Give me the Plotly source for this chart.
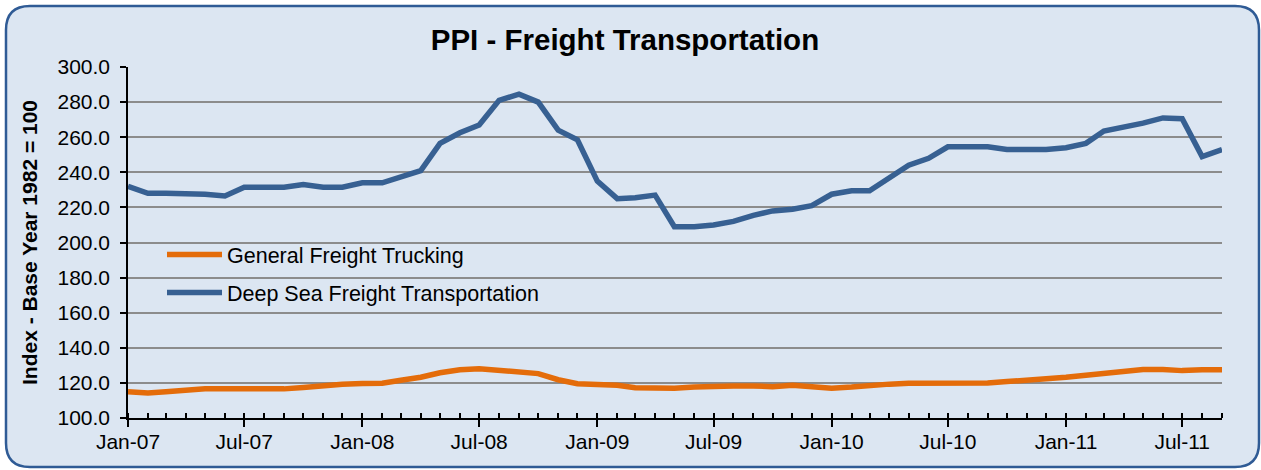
import plotly.graph_objects as go
import pandas as pd

months = pd.date_range("2007-01-01", periods=57, freq="MS")

deep_sea = [232, 228, 228, 228, 227.5, 226.5, 231.5, 231.5, 231.5, 233, 231.5, 231.5,
            234, 234, 237.5, 241, 256.5, 262.5, 267, 281, 284.5,
            280, 264, 258.5, 235, 225, 225.5, 227, 209, 209, 210, 212, 215.5, 218, 219, 221,
            227.5, 229.5, 229.5,
            237, 244, 248, 254.5, 254.5, 254.5, 253, 253, 253, 254, 256.5, 263.5, 265.5, 268,
            271, 270.5, 249, 253]

trucking = [114.9, 114.2, 114.9, 116, 116.6, 116.6, 116.6, 116.6, 116.6, 117.4, 118.5, 119.2,
            119.6, 119.8, 121.5, 123.2, 125.8, 127.5, 128.1, 127.4, 126, 125.3, 121.8, 119.5,
            119.1, 118.7, 117.2, 116.7, 117, 117.6, 118.3, 118.3, 118.3, 117.8, 118.7, 117.8,
            117, 117.6, 118.7, 119.3, 119.8, 119.8, 119.7, 119.6, 120, 120.8, 121.9, 122.3,
            123.2, 124.5, 125.7, 127, 127.7, 127.7, 127, 127.5, 127.5]

W, H = 1261, 470
ML, MR, MT, MB = 128, 39, 67, 52
PW, PH = W - ML - MR, H - MT - MB

BG = "#DCE6F2"
BORDER = "#2F5B95"
BLUE = "#376092"
ORANGE = "#E46C0A"
FONT = "Liberation Sans, Arial, sans-serif"


def px(x):
    return (x - ML) / PW


def py(y):
    return (H - MB - y) / PH


def rounded_rect(x0, y0, x1, y1, r):
    pts = [
        ("M", [(x0 + r, y0)]),
        ("L", [(x1 - r, y0)]),
        ("Q", [(x1, y0), (x1, y0 + r)]),
        ("L", [(x1, y1 - r)]),
        ("Q", [(x1, y1), (x1 - r, y1)]),
        ("L", [(x0 + r, y1)]),
        ("Q", [(x0, y1), (x0, y1 - r)]),
        ("L", [(x0, y0 + r)]),
        ("Q", [(x0, y0), (x0 + r, y0)]),
    ]
    s = ""
    for cmd, ps in pts:
        s += cmd + " " + " ".join(f"{px(a):.5f},{py(b):.5f}" for a, b in ps) + " "
    return s + "Z"


fig = go.Figure()
fig.add_trace(go.Scatter(x=months, y=trucking, mode="lines", name="General Freight Trucking",
                         line=dict(color=ORANGE, width=5.5), legendgroup="a"))
fig.add_trace(go.Scatter(x=months, y=deep_sea, mode="lines", name="Deep Sea Freight Transportation",
                         line=dict(color=BLUE, width=5.5), legendgroup="b"))

fig.update_layout(
    width=W, height=H,
    margin=dict(l=ML, r=MR, t=MT, b=MB),
    paper_bgcolor="white",
    plot_bgcolor="rgba(0,0,0,0)",
    font=dict(family=FONT, size=21, color="black"),
    title=dict(text="<b>PPI - Freight Transportation</b>", x=0.4956, xref="container",
               y=1 - 40 / H, yref="container", yanchor="middle", xanchor="center",
               font=dict(family=FONT, size=29.5, color="black")),
    showlegend=True,
    legend=dict(x=px(162), y=py(234), xanchor="left", yanchor="top",
                bgcolor="rgba(0,0,0,0)", font=dict(size=21.5), itemwidth=55,
                tracegroupgap=7, traceorder="grouped"),
    shapes=[dict(type="path", xref="paper", yref="paper", layer="below",
                 path=rounded_rect(6, 6, 1259, 467, 24),
                 fillcolor=BG, line=dict(color=BORDER, width=2.5))],
)

fig.update_xaxes(
    range=[months[0], months[-1]],
    tickformat="%b-%y", dtick="M6", tick0="2007-01-01",
    ticks="outside", ticklen=7, tickwidth=1.5, tickcolor="black",
    showline=True, linecolor="black", linewidth=1.5,
    showgrid=False, zeroline=False,
    minor=dict(dtick="M1", ticks="inside", ticklen=5, tickwidth=1.5, tickcolor="black", showgrid=False),
    tickfont=dict(size=21),
    ticklabelstandoff=-3,
)
fig.update_yaxes(
    range=[100, 300], dtick=20, tickformat=".1f",
    ticks="outside", ticklen=6, tickwidth=1.5, tickcolor="black",
    showline=True, linecolor="black", linewidth=1.5,
    showgrid=True, gridcolor="#8C8C8C", gridwidth=1.5, zeroline=False,
    ticklabelstandoff=6,
    title=dict(text="<b>Index - Base Year 1982 = 100</b>", font=dict(size=21), standoff=14),
    tickfont=dict(size=21),
)

fig.write_html("out.html", config={"displayModeBar": False},
               post_script="document.body.style.margin='0px';document.body.style.overflow='hidden';")
